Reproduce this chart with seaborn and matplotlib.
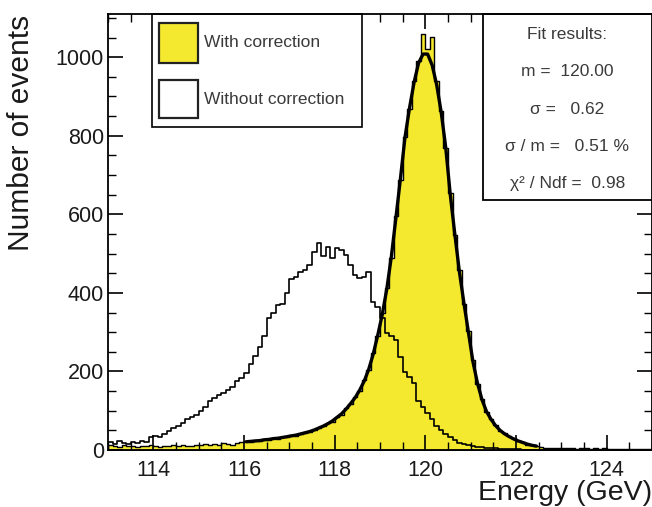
import numpy as np
import pandas as pd
import matplotlib
matplotlib.use("Agg")
import matplotlib.pyplot as plt
import seaborn as sns
from matplotlib.patches import Rectangle
from matplotlib.ticker import MultipleLocator

# ---------------- data ----------------
E_MIN, E_MAX, BIN_W = 113.0, 125.0, 0.1

# "With correction" histogram, bins of 0.1 GeV from 113.0 to 125.0
with_corr = [
    12, 10, 8, 12, 9, 10, 8, 11, 9, 12,            # 113.0-113.9
    10, 8, 11, 9, 12, 10, 13, 11, 10, 14,          # 114.x
    12, 15, 13, 16, 14, 18, 16, 14, 18, 20,        # 115.x
    22, 20, 25, 23, 27, 26, 30, 28, 33, 32,        # 116.x
    37, 36, 42, 43, 46, 52, 55, 60, 69, 72,        # 117.x
    84, 90, 106, 116, 135, 150, 178, 204, 246, 290,  # 118.x
    348, 412, 488, 595, 688, 798, 868, 940, 990, 1058,  # 119.x
    1020, 1052, 940, 862, 768, 655, 548, 458, 372, 302,  # 120.x
    228, 168, 130, 96, 80, 64, 48, 44, 35, 30,     # 121.x
    22, 20, 14, 12, 9, 7, 6, 5, 6, 4,              # 122.x
    5, 4, 5, 3, 4, 5, 3, 4, 3, 4,                  # 123.x
    3, 2, 3, 2, 3, 2, 2, 3, 2, 2,                  # 124.x
]

# "Without correction" histogram, same bins
without_corr = [
    20, 16, 22, 18, 15, 20, 17, 23, 21, 32,        # 113.x
    36, 33, 42, 48, 56, 62, 68, 78, 84, 88,        # 114.x
    100, 110, 124, 132, 140, 146, 152, 160, 176, 184,  # 115.x
    196, 220, 240, 262, 290, 335, 350, 368, 372, 400,  # 116.x
    436, 440, 452, 458, 472, 505, 526, 494, 516, 490,  # 117.x
    514, 508, 496, 472, 446, 438, 440, 454, 376, 364,  # 118.x
    336, 298, 290, 280, 236, 198, 186, 170, 125, 110,  # 119.x
    94, 78, 60, 52, 40, 33, 25, 19, 15, 13,        # 120.x
    9, 8, 7, 6, 5, 4, 3, 3, 2, 2,                  # 121.x
    2, 1, 1, 1, 1, 0, 0, 0, 0, 0,                  # 122.x
    0, 0, 0, 0, 0, 0, 0, 0, 0, 0,                  # 123.x
    0, 0, 0, 0, 0, 0, 0, 0, 0, 0,                  # 124.x
]

# Fit curve values at bin centres 116.05 ... 122.45
FIT_START_BIN = 30
fit_values = [
    21, 22, 23, 24, 26, 27, 29, 30, 32, 34,
    36, 38, 41, 44, 47, 51, 56, 61, 67, 74,
    83, 92, 104, 118, 133, 152, 175, 205, 244, 292,
    345, 410, 492, 590, 690, 795, 870, 935, 985, 1008,
    1008, 980, 930, 860, 770, 650, 550, 455, 375, 300,
    225, 170, 128, 98, 78, 62, 50, 41, 34, 28,
    23, 19, 15, 12, 10,
]

legend_labels = ["With correction", "Without correction"]
fit_lines = ["Fit results:", "m =  120.00", "\u03c3 =   0.62",
             "\u03c3 / m =   0.51 %", "\u03c7\u00b2 / Ndf =  0.98"]

x_label = "Energy (GeV)"
y_label = "Number of events"

YELLOW = "#F4E92E"
TEXT_GRAY = "#3a3a3a"

# ---------------- build ----------------
n_bins = len(with_corr)
centers = E_MIN + BIN_W * (np.arange(n_bins) + 0.5)
df = pd.DataFrame({"energy": centers, "with": with_corr, "without": without_corr})
fit_df = pd.DataFrame({"energy": centers[FIT_START_BIN:FIT_START_BIN + len(fit_values)],
                       "value": fit_values})

sns.set_theme(style="white")
plt.rcParams["font.family"] = ["Liberation Sans", "DejaVu Sans"]

fig = plt.figure(figsize=(6.52, 5.07), dpi=100)
ax = fig.add_axes([108 / 652, 1 - 450 / 507, 1 - 108 / 652, (450 - 14) / 507])
ax.set_axisbelow(False)

sns.histplot(data=df, x="energy", weights="with", bins=n_bins, binrange=(E_MIN, E_MAX),
             element="step", fill=True, color=YELLOW, alpha=1, edgecolor="black",
             linewidth=1.0, ax=ax, zorder=2)
sns.lineplot(data=fit_df, x="energy", y="value", color="black", linewidth=2.4,
             ax=ax, zorder=3)
sns.histplot(data=df, x="energy", weights="without", bins=n_bins, binrange=(E_MIN, E_MAX),
             element="step", fill=False, color="black", linewidth=1.2, ax=ax, zorder=4)

ax.set_xlim(E_MIN, E_MAX)
ax.set_ylim(0, 1110)

ax.xaxis.set_major_locator(MultipleLocator(2))
ax.xaxis.set_minor_locator(MultipleLocator(0.5))
ax.yaxis.set_major_locator(MultipleLocator(200))
ax.yaxis.set_minor_locator(MultipleLocator(50))
ax.tick_params(which="both", direction="in", bottom=True, left=True, top=True,
               right=True, colors="black")
ax.tick_params(which="major", length=11, width=1.2, labelsize=15.5, labelcolor="#1a1a1a")
ax.tick_params(which="minor", length=5.5, width=1.0)
ax.tick_params(axis="x", which="major", pad=7)
ax.tick_params(axis="y", which="major", pad=3)
for s in ax.spines.values():
    s.set_color("black")
    s.set_linewidth(1.3)
    s.set_zorder(20)

ax.set_xlabel(x_label, fontsize=20.5, loc="right", color="#1a1a1a")
ax.xaxis.set_label_coords(1.0, -0.068)
ax.set_ylabel(y_label, fontsize=21.5, loc="top", color="#1a1a1a")
ax.yaxis.set_label_coords(-0.134, 0.998)

# legend box
T = ax.transAxes
ax.add_patch(Rectangle((0.081, 0.741), 0.386, 0.259, transform=T, facecolor="white",
                       edgecolor="black", linewidth=1.2, zorder=10, clip_on=False))
ax.add_patch(Rectangle((0.094, 0.888), 0.071, 0.091, transform=T, facecolor=YELLOW,
                       edgecolor="#222222", linewidth=1.6, zorder=11))
ax.add_patch(Rectangle((0.094, 0.761), 0.071, 0.088, transform=T, facecolor="white",
                       edgecolor="#222222", linewidth=1.6, zorder=11))
ax.text(0.177, 0.934, legend_labels[0], transform=T, fontsize=12.5, color=TEXT_GRAY,
        va="center", ha="left", zorder=12)
ax.text(0.177, 0.805, legend_labels[1], transform=T, fontsize=12.5, color=TEXT_GRAY,
        va="center", ha="left", zorder=12)

# fit results box
ax.add_patch(Rectangle((0.689, 0.573), 0.33, 0.427, transform=T, facecolor="white",
                       edgecolor="black", linewidth=1.3, zorder=10, clip_on=False))
for txt, yy in zip(fit_lines, [0.952, 0.867, 0.780, 0.697, 0.612]):
    ax.text(0.844, yy, txt, transform=T, fontsize=12.5, color=TEXT_GRAY,
            va="center", ha="center", zorder=12)

fig.savefig("out.png", dpi=100)
